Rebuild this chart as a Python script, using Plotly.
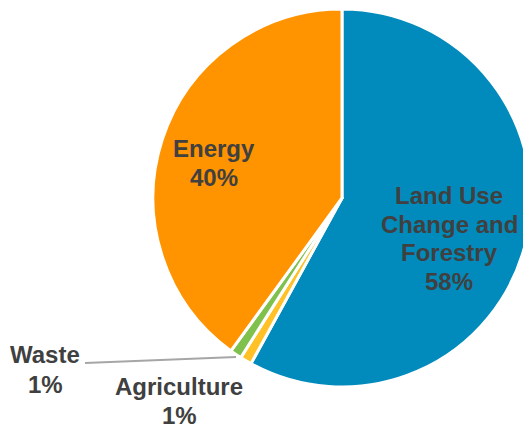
import plotly.graph_objects as go

labels = ["Land Use Change and Forestry", "Agriculture", "Waste", "Energy"]
label_lines = [["Land Use", "Change and", "Forestry"], ["Agriculture"], ["Waste"], ["Energy"]]
values = [58, 1, 1, 40]
pct_text = ["58%", "1%", "1%", "40%"]
colors = ["#008BBC", "#FFC125", "#80C04C", "#FF9300"]

# page has an 8px body margin; figure coordinates = screen pixels - 8
OFF = 8
W, H = 531 - OFF, 432 - OFF
# (center x, first baseline y, line spacing) in screen pixels
label_pos = [(449, 204, 28.5), (179, 395, 29), (45, 363, 30), (214, 157, 28.5)]

fig = go.Figure(go.Pie(
    labels=labels,
    values=values,
    sort=False,
    direction="clockwise",
    rotation=0,
    marker=dict(colors=colors, line=dict(color="white", width=3)),
    textinfo="none",
    hoverinfo="label+percent",
    showlegend=False,
    domain=dict(x=[(153 - OFF) / W, 1.0], y=[(H - (387 - OFF)) / H, (H - (9 - OFF)) / H]),
))

font = dict(family="Liberation Sans, Arial, sans-serif", size=24, color="#404040")
for lines, pt, (cx, by, sp) in zip(label_lines, pct_text, label_pos):
    for i, t in enumerate(lines + [pt]):
        base = by + i * sp
        fig.add_annotation(
            x=(cx - OFF) / W, y=1 - (base - 8.5 - OFF) / H, xref="paper", yref="paper",
            text=f"<b>{t}</b>", showarrow=False, font=font,
            align="center", xanchor="center", yanchor="middle",
        )

# leader line for Waste
fig.add_shape(type="line", xref="paper", yref="paper",
              x0=(85 - OFF) / W, y0=1 - (363 - OFF) / H,
              x1=(236 - OFF) / W, y1=1 - (357 - OFF) / H,
              line=dict(color="#A6A6A6", width=2))

fig.update_layout(
    width=W, height=H,
    margin=dict(l=0, r=0, t=0, b=0),
    paper_bgcolor="white", plot_bgcolor="white",
)

fig.write_html("out.html")
